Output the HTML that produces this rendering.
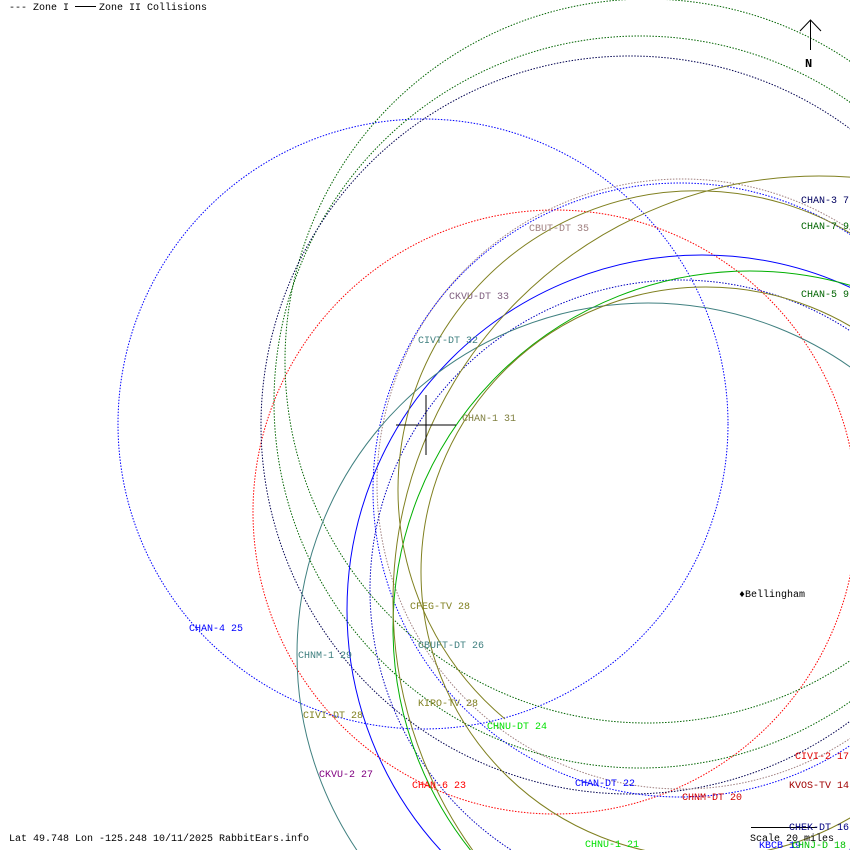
<!DOCTYPE html>
<html><head><meta charset="utf-8"><style>
html,body{margin:0;padding:0;background:#fff;width:850px;height:850px;overflow:hidden;}
svg{display:block;}
text{font-family:"Liberation Mono","DejaVu Sans Mono",monospace;font-size:10px;}
</style></head><body>
<svg width="850" height="850" viewBox="0 0 850 850" xmlns="http://www.w3.org/2000/svg">
<g fill="none" stroke-width="1">
<circle cx="423" cy="424" r="305" stroke="#0000ff" stroke-dasharray="1.5,1.5"/>
<circle cx="555" cy="512" r="302" stroke="#ff0000" stroke-dasharray="1.5,1.5"/>
<circle cx="647" cy="361" r="362" stroke="#006400" stroke-dasharray="1.5,1.5"/>
<circle cx="640" cy="402" r="366" stroke="#006400" stroke-dasharray="1.5,1.5"/>
<circle cx="630" cy="425" r="369" stroke="#000050" stroke-dasharray="1.5,1.5"/>
<circle cx="680" cy="490" r="307" stroke="#0000ff" stroke-dasharray="1.5,1.5"/>
<circle cx="682" cy="484" r="305" stroke="#a08080" stroke-dasharray="1.5,1.5"/>
<circle cx="680" cy="590" r="310" stroke="#0000c0" stroke-dasharray="1.5,1.5"/>
<circle cx="702" cy="610" r="355" stroke="#0000ff"/>
<circle cx="750" cy="628" r="357" stroke="#00b000"/>
<circle cx="648" cy="654" r="351" stroke="#408080"/>
<circle cx="819" cy="602" r="426" stroke="#808020"/>
<path d="M505,719 A299,299 0 1 1 996,490" stroke="#808020"/>
<circle cx="706" cy="572" r="285" stroke="#808020"/>
</g>
<line x1="396" y1="425" x2="456" y2="425" stroke="#000"/>
<line x1="426" y1="395" x2="426" y2="455" stroke="#000"/>
<line x1="810.5" y1="20" x2="810.5" y2="50" stroke="#000"/>
<polyline points="800,31 810.5,20 821,31" fill="none" stroke="#000"/>
<text x="805" y="67" font-weight="bold" style="font-size:12px">N</text>
<line x1="751" y1="827.5" x2="817" y2="827.5" stroke="#000"/>
<rect x="0" y="0" width="215" height="14" fill="#fff"/>
<text x="9" y="10" fill="#000">--- Zone I</text>
<line x1="75" y1="6.5" x2="96" y2="6.5" stroke="#000"/>
<text x="99" y="10" fill="#000">Zone II Collisions</text>
<g>
<text x="801" y="203" fill="#000060">CHAN-3 7</text>
<text x="801" y="229" fill="#006400">CHAN-7 9</text>
<text x="529" y="231" fill="#a08080">CBUT-DT 35</text>
<text x="449" y="299" fill="#806080">CKVU-DT 33</text>
<text x="801" y="297" fill="#006400">CHAN-5 9</text>
<text x="418" y="343" fill="#408080">CIVT-DT 32</text>
<text x="462" y="421" fill="#808040">CHAN-1 31</text>
<text x="410" y="609" fill="#808020">CFEG-TV 28</text>
<text x="739" y="597" fill="#000">♦Bellingham</text>
<text x="189" y="631" fill="#0000ff">CHAN-4 25</text>
<text x="418" y="648" fill="#408080">CBUFT-DT 26</text>
<text x="298" y="658" fill="#408080">CHNM-1 29</text>
<text x="418" y="706" fill="#808020">KIRO-TV 28</text>
<text x="303" y="718" fill="#808020">CIVI-DT 28</text>
<text x="487" y="729" fill="#00e000">CHNU-DT 24</text>
<text x="795" y="759" fill="#e00000">CIVI-2 17</text>
<text x="319" y="777" fill="#800080">CKVU-2 27</text>
<text x="575" y="786" fill="#0000ff">CHAN-DT 22</text>
<text x="412" y="788" fill="#ff0000">CHAN-6 23</text>
<text x="789" y="788" fill="#a00000">KVOS-TV 14</text>
<text x="682" y="800" fill="#d00000">CHNM-DT 20</text>
<text x="789" y="830" fill="#000080">CHEK-DT 16</text>
<text x="750" y="841" fill="#000">Scale 20 miles</text>
<text x="759" y="848" fill="#0000ff">KBCB 19</text>
<text x="792" y="848" fill="#00c000">CHNJ-D 18</text>
<text x="585" y="847" fill="#00e000">CHNU-1 21</text>
<text x="9" y="841" fill="#000">Lat 49.748 Lon -125.248 10/11/2025 RabbitEars.info</text>
</g>
</svg>
</body></html>
